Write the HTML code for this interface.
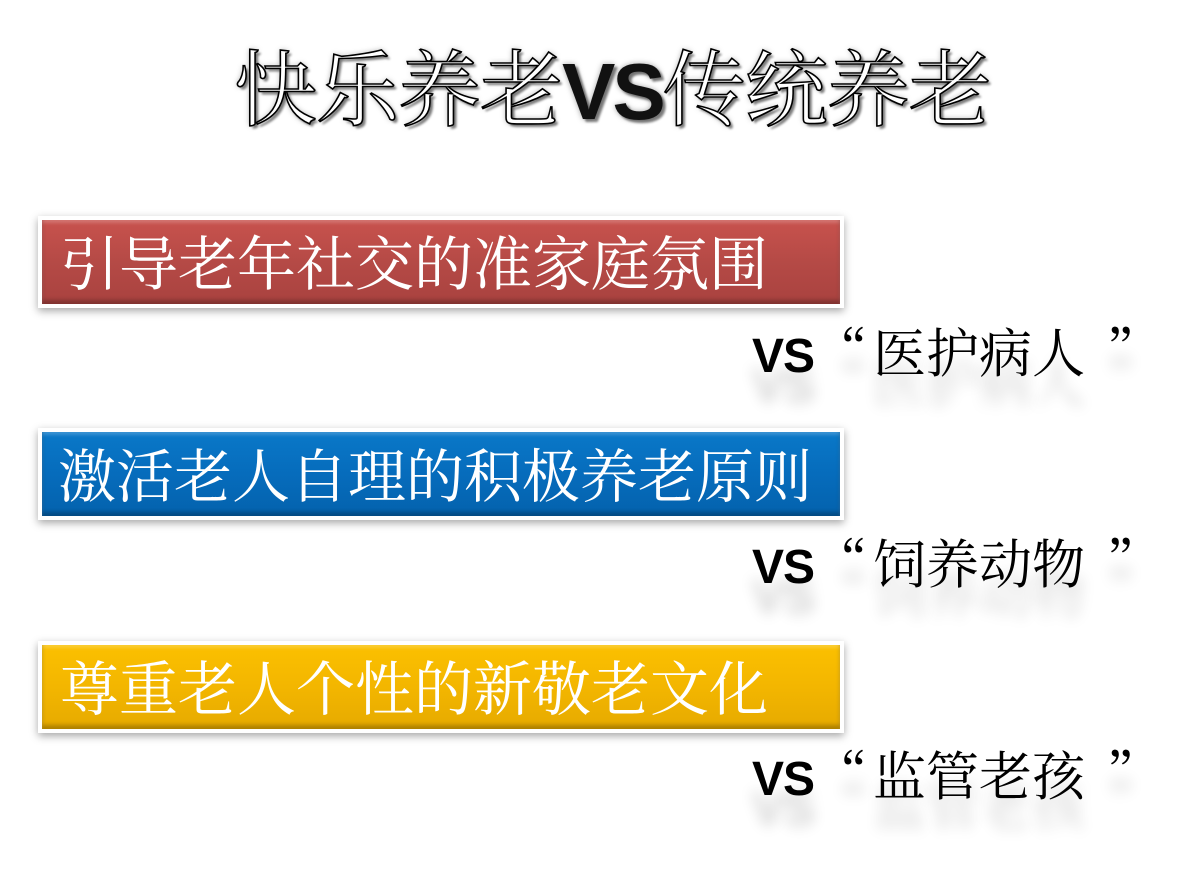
<!DOCTYPE html>
<html><head><meta charset="utf-8"><style>
body{margin:0;width:1200px;height:896px;background:#fff;position:relative;overflow:hidden;font-family:"Liberation Serif","Noto Serif CJK SC",serif}
.title{position:absolute;left:234px;top:36px;width:780px;height:110px;font-size:83px;line-height:110px;white-space:nowrap;color:#fff;-webkit-text-stroke:1.6px #000;text-shadow:0 0 6px rgba(0,0,0,.35),3px 3px 2px #888;letter-spacing:-1px}
.title b{font-family:"Liberation Sans",sans-serif;font-weight:bold;color:#111;-webkit-text-stroke:0;font-size:80px;letter-spacing:-3px}
.box{position:absolute;left:38px;width:806px;background:#fff;box-shadow:0 3px 8px rgba(0,0,0,.35);padding:4px;box-sizing:border-box}
.box div{height:100%;color:#fff;white-space:nowrap;box-sizing:border-box;padding-left:18px;font-family:"Noto Serif CJK SC",serif;box-shadow:inset 0 -4px 4px rgba(0,0,0,.25),inset 0 3px 3px rgba(255,255,255,.2)}
.vs{position:absolute;left:752px;white-space:nowrap;font-size:53px;color:#000;font-family:"Noto Serif CJK SC",serif;text-shadow:0 30px 14px rgba(0,0,0,.18)}
.vs b{font-family:"Liberation Sans",sans-serif;font-size:48px;letter-spacing:-1px}
.q1{margin-left:0px;margin-right:6px}
.q2{margin-left:22px}
</style></head><body>
<div class="title">快乐养老<b>VS</b>传统养老</div>

<div class="box" style="top:216px;height:92px"><div style="background:linear-gradient(#c8524d,#b54a46 50%,#a9423f);font-size:59px;line-height:80px">引导老年社交的准家庭氛围</div></div>
<div class="vs" style="top:315px;line-height:70px"><b>VS</b><span class="q1">“</span>医护病人<span class="q2">”</span></div>

<div class="box" style="top:428px;height:92px"><div style="background:linear-gradient(#0a78c8,#066cbc 50%,#0462ad);font-size:58px;line-height:80px;padding-left:16px">激活老人自理的积极养老原则</div></div>
<div class="vs" style="top:526px;line-height:70px"><b>VS</b><span class="q1">“</span>饲养动物<span class="q2">”</span></div>

<div class="box" style="top:641px;height:92px"><div style="background:linear-gradient(#fbc000,#f3b600 50%,#e6aa00);font-size:59px;line-height:80px">尊重老人个性的新敬老文化</div></div>
<div class="vs" style="top:738px;line-height:70px"><b>VS</b><span class="q1">“</span>监管老孩<span class="q2">”</span></div>
</body></html>
